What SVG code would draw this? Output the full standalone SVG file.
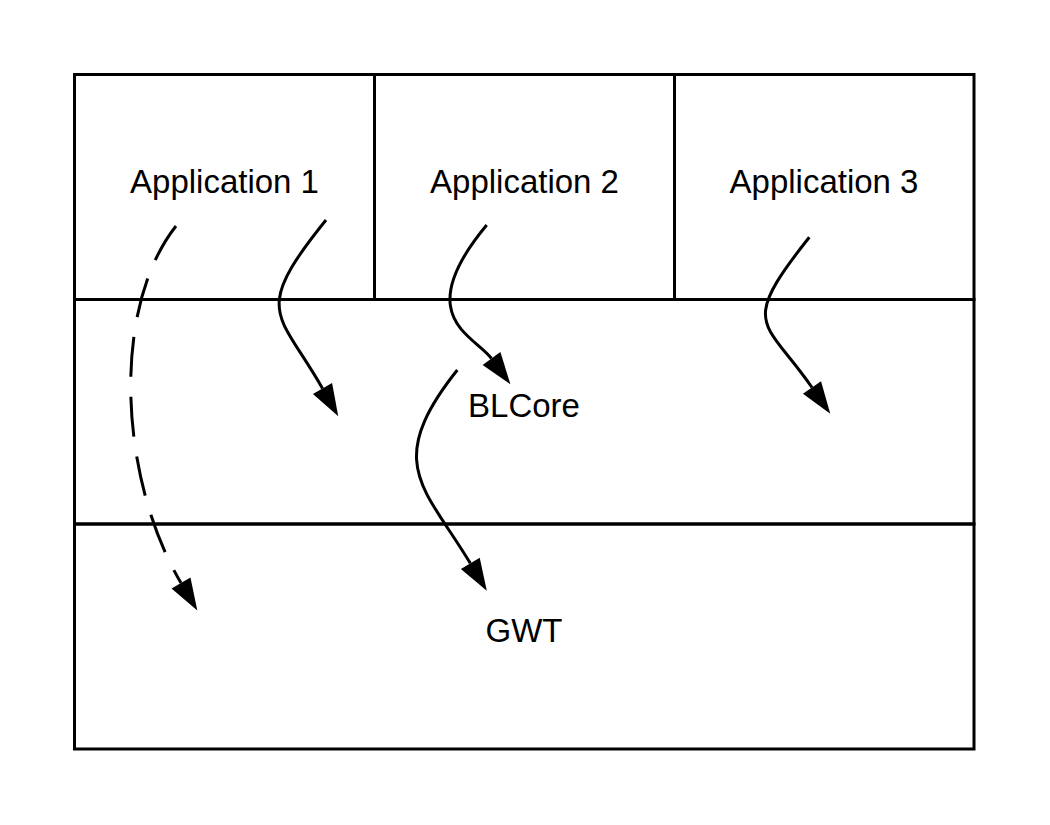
<svg xmlns="http://www.w3.org/2000/svg" width="1050" height="825" viewBox="0 0 1050 825">
  <style>
    .box { fill: none; stroke: #000; stroke-width: 3; }
    .lbl { font-family: "Liberation Sans", Arial, sans-serif; font-size: 33px; fill: #000; text-anchor: middle; }
    .conn { fill: none; stroke: #000; stroke-width: 3; }
    .dash { stroke-dasharray: 40 20; }
  </style>
  <defs>
    <marker id="arrow" markerUnits="userSpaceOnUse" markerWidth="35" markerHeight="26" viewBox="-1 -13 35 26" refX="0" refY="0" orient="auto">
      <path d="M0,-11 L32,0 L0,11 Z" fill="#000"/>
    </marker>
  </defs>
  <rect x="0" y="0" width="1050" height="825" fill="#fff"/>
  <g id="gwt">
    <rect class="box" x="74.5" y="524" width="899.5" height="225"/>
    <text class="lbl" x="524" y="642">GWT</text>
  </g>
  <g id="blcore">
    <rect class="box" x="74.5" y="299.5" width="899.5" height="224.5"/>
    <text class="lbl" x="524" y="417">BLCore</text>
  </g>
  <g id="app1">
    <rect class="box" x="74.5" y="74.5" width="300" height="225"/>
    <text class="lbl" x="224.5" y="193">Application 1</text>
  </g>
  <g id="app2">
    <rect class="box" x="374.5" y="74.5" width="300" height="225"/>
    <text class="lbl" x="524.5" y="193">Application 2</text>
  </g>
  <g id="app3">
    <rect class="box" x="674.5" y="74.5" width="299.5" height="225"/>
    <text class="lbl" x="824" y="193">Application 3</text>
  </g>
  <g id="connectors">
    <path class="conn dash" d="M176,226 C110,310 120,480 181,583" marker-end="url(#arrow)"/>
    <path class="conn" d="M326,220 C250.4,313.6 279,311.6 322.5,388.5" marker-end="url(#arrow)"/>
    <path class="conn" d="M486.7,225 C409.9,317.4 474.6,335.4 491.5,358.5" marker-end="url(#arrow)"/>
    <path class="conn" d="M457.3,370 C382.9,463.6 424.3,486.8 470.3,563.3" marker-end="url(#arrow)"/>
    <path class="conn" d="M809.3,237.3 C738,327 764.4,319 812,387.5" marker-end="url(#arrow)"/>
  </g>
</svg>
